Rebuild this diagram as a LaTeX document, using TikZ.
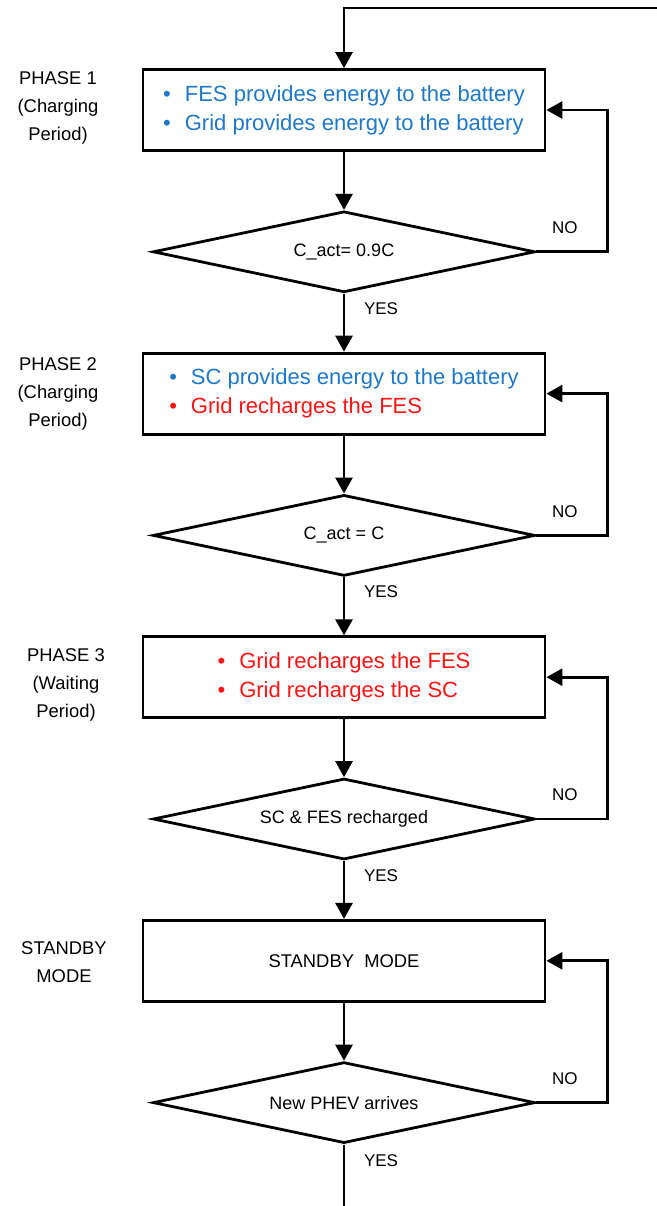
\documentclass[tikz,border=0pt]{standalone}
\usepackage{fontspec}
\setmainfont{Liberation Sans}
\usepackage{xcolor}
\usepackage{tikz}
\usetikzlibrary{arrows.meta,positioning,shapes.geometric}
\definecolor{feblue}{RGB}{30,120,200}
\definecolor{fered}{RGB}{250,20,20}
\newcommand{\bul}[2]{\textcolor{#1}{\textbullet\hspace{7pt}#2}}
\begin{document}
\begin{tikzpicture}[
  x=0.5pt,y=-0.5pt,
  node distance=29pt,
  font=\fontsize{11}{14.5}\selectfont,
  phase/.style={draw,line width=1.4pt,minimum width=201pt,minimum height=40.5pt,align=left,inner sep=2pt},
  test/.style={draw,diamond,aspect=4.7,line width=1.4pt,minimum width=191pt,minimum height=40.5pt,
    inner sep=0pt,font=\fontsize{9}{11}\selectfont},
  side/.style={align=center,font=\fontsize{9.2}{14}\selectfont},
  lbl/.style={font=\fontsize{8.5}{10}\selectfont},
  flow/.style={line width=1.4pt,-{Triangle[length=8pt,width=8.5pt]}}
]
\useasboundingbox (0,0) rectangle (657,1206);
\node[phase] (B1) at (344,110) {\bul{feblue}{FES provides energy to the battery}\\
  \bul{feblue}{Grid provides energy to the battery}};
\node[test,below=of B1] (D1) {C\_act= 0.9C};
\node[phase,below=of D1] (B2) {\bul{feblue}{SC provides energy to the battery}\\
  \bul{fered}{Grid recharges the FES}};
\node[test,below=of B2] (D2) {C\_act\ =\ C};
\node[phase,below=of D2] (B3) {\bul{fered}{Grid recharges the FES}\\
  \bul{fered}{Grid recharges the SC}};
\node[test,below=of B3] (D3) {SC \& FES recharged};
\node[phase,below=of D3,font=\fontsize{9.2}{11}\selectfont] (B4) {STANDBY\ \ MODE};
\node[test,below=of B4] (D4) {New PHEV arrives};

\node[side] (L1) at (58,108) {PHASE 1\\(Charging\\Period)};
\node[side] (L2) at (58,394) {PHASE 2\\(Charging\\Period)};
\node[side] (L3) at (66,685) {PHASE 3\\(Waiting\\Period)};
\node[side] (L4) at (64,962) {STANDBY\\MODE};

\coordinate (IN) at (657,8);
\coordinate (OUT) at (344,1206);

\draw[flow] (IN) -| (B1.north);
\draw[flow] (B1) -- (D1);
\draw[flow] (D1) -- node[lbl,right=6pt,pos=0.25] {YES} (B2);
\draw[flow] (B2) -- (D2);
\draw[flow] (D2) -- node[lbl,right=6pt,pos=0.25] {YES} (B3);
\draw[flow] (B3) -- (D3);
\draw[flow] (D3) -- node[lbl,right=6pt,pos=0.25] {YES} (B4);
\draw[flow] (B4) -- (D4);
\draw[line width=1.4pt] (D4) -- node[lbl,right=6pt,pos=0.27] {YES} (OUT);

\draw[flow] (D1.east) -- node[lbl,above=5pt,pos=0.4] {NO} ++(71,0) |- (B1.east);
\draw[flow] (D2.east) -- node[lbl,above=5pt,pos=0.4] {NO} ++(71,0) |- (B2.east);
\draw[flow] (D3.east) -- node[lbl,above=5pt,pos=0.4] {NO} ++(71,0) |- (B3.east);
\draw[flow] (D4.east) -- node[lbl,above=5pt,pos=0.4] {NO} ++(71,0) |- (B4.east);
\end{tikzpicture}
\end{document}
